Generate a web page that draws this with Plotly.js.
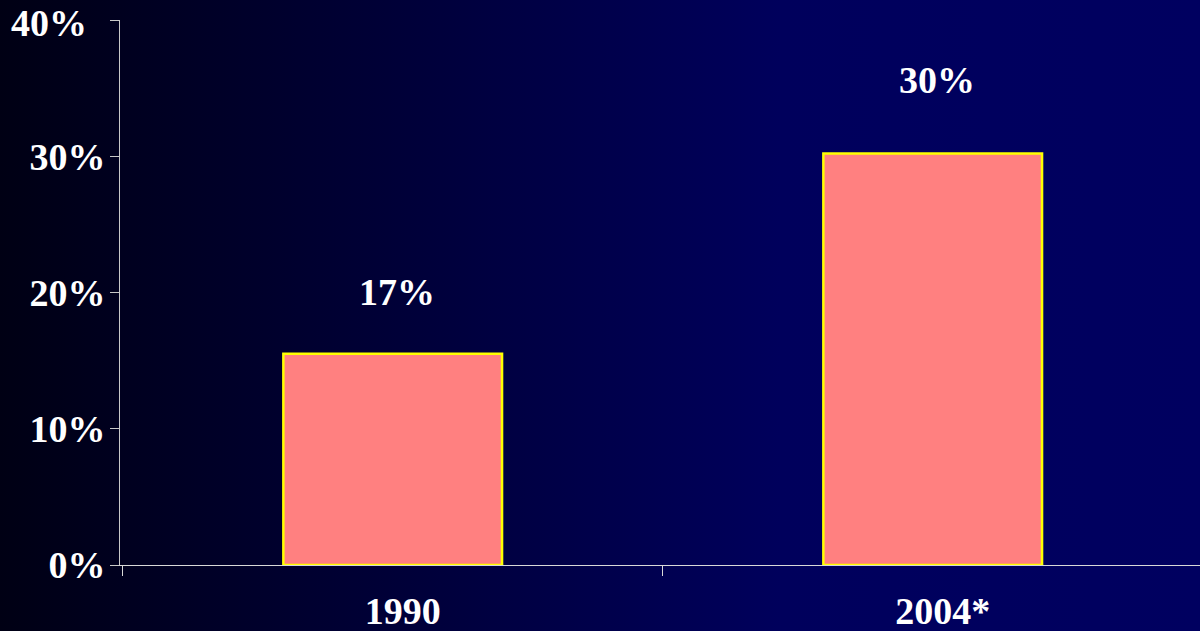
<!DOCTYPE html>
<html>
<head>
<meta charset="utf-8">
<script src="https://cdn.plot.ly/plotly-3.0.1.min.js"></script>
<style>
  html, body { margin: 0; padding: 0; }
  body { width: 1200px; height: 631px; overflow: hidden;
         background: linear-gradient(to right, #000014 0%, #00003a 35%, #00005c 65%, #000060 100%); }
  #chart { width: 1200px; height: 631px; }
</style>
</head>
<body>
<div id="chart"></div>
<script>
const categories = ['1990', '2004*'];
const barValues = [15.5, 30.2];
const barLabels = ['17%', '30%'];
const yTickValues = [0, 10, 20, 30, 40];
const yTickLabels = ['0%', '10%', '20%', '30%', '40%'];

const fontFamily = '"Liberation Serif", "Times New Roman", serif';
const labelShifts = [62, 74];
const tickFont = { family: fontFamily, size: 38, color: '#FFFFFF', weight: 'bold' };

const trace = {
  type: 'bar',
  x: categories,
  y: barValues,
  width: 0.405,
  marker: { color: '#FF8080', line: { color: '#FFFF00', width: 2.5 } },
  hoverinfo: 'skip'
};

const annotations = categories.map((c, i) => ({
  x: i, y: barValues[i], xref: 'x', yref: 'y',
  text: barLabels[i], showarrow: false,
  xanchor: 'center', yanchor: 'middle', xshift: 4, yshift: labelShifts[i],
  font: tickFont
}));

// top tick label (drawn as annotation so it is not dropped at the edge)
const topIdx = yTickValues.length - 1;
annotations.push({
  x: 0, xref: 'paper', y: yTickValues[topIdx], yref: 'y',
  text: yTickLabels[topIdx], showarrow: false,
  xanchor: 'right', yanchor: 'middle', xshift: -31, yshift: -3,
  font: tickFont
});

const layout = {
  width: 1200, height: 631,
  margin: { l: 120, r: 0, t: 20, b: 66 },
  paper_bgcolor: 'rgba(0,0,0,0)',
  plot_bgcolor: 'rgba(0,0,0,0)',
  showlegend: false,
  xaxis: {
    type: 'category', range: [-0.505, 1.495],
    showline: true, linecolor: '#D8D8D8', linewidth: 1,
    ticks: 'outside', tickson: 'boundaries', ticklen: 10, tickcolor: '#D8D8D8', tickwidth: 1,
    showgrid: false, zeroline: false,
    ticklabelstandoff: 12, ticklabelshift: 10,
    tickfont: tickFont
  },
  yaxis: {
    range: [0, 40],
    tickmode: 'array', tickvals: yTickValues,
    ticktext: yTickLabels.map((t, i) => i === topIdx ? '' : t),
    showline: true, linecolor: '#C8C8C8', linewidth: 1,
    ticks: 'outside', ticklen: 9, tickcolor: '#C8C8C8', tickwidth: 1,
    showgrid: false, zeroline: false,
    ticklabelstandoff: -3,
    tickfont: tickFont
  },
  annotations: annotations
};

Plotly.newPlot('chart', [trace], layout, { staticPlot: true, displayModeBar: false });
</script>
</body>
</html>
